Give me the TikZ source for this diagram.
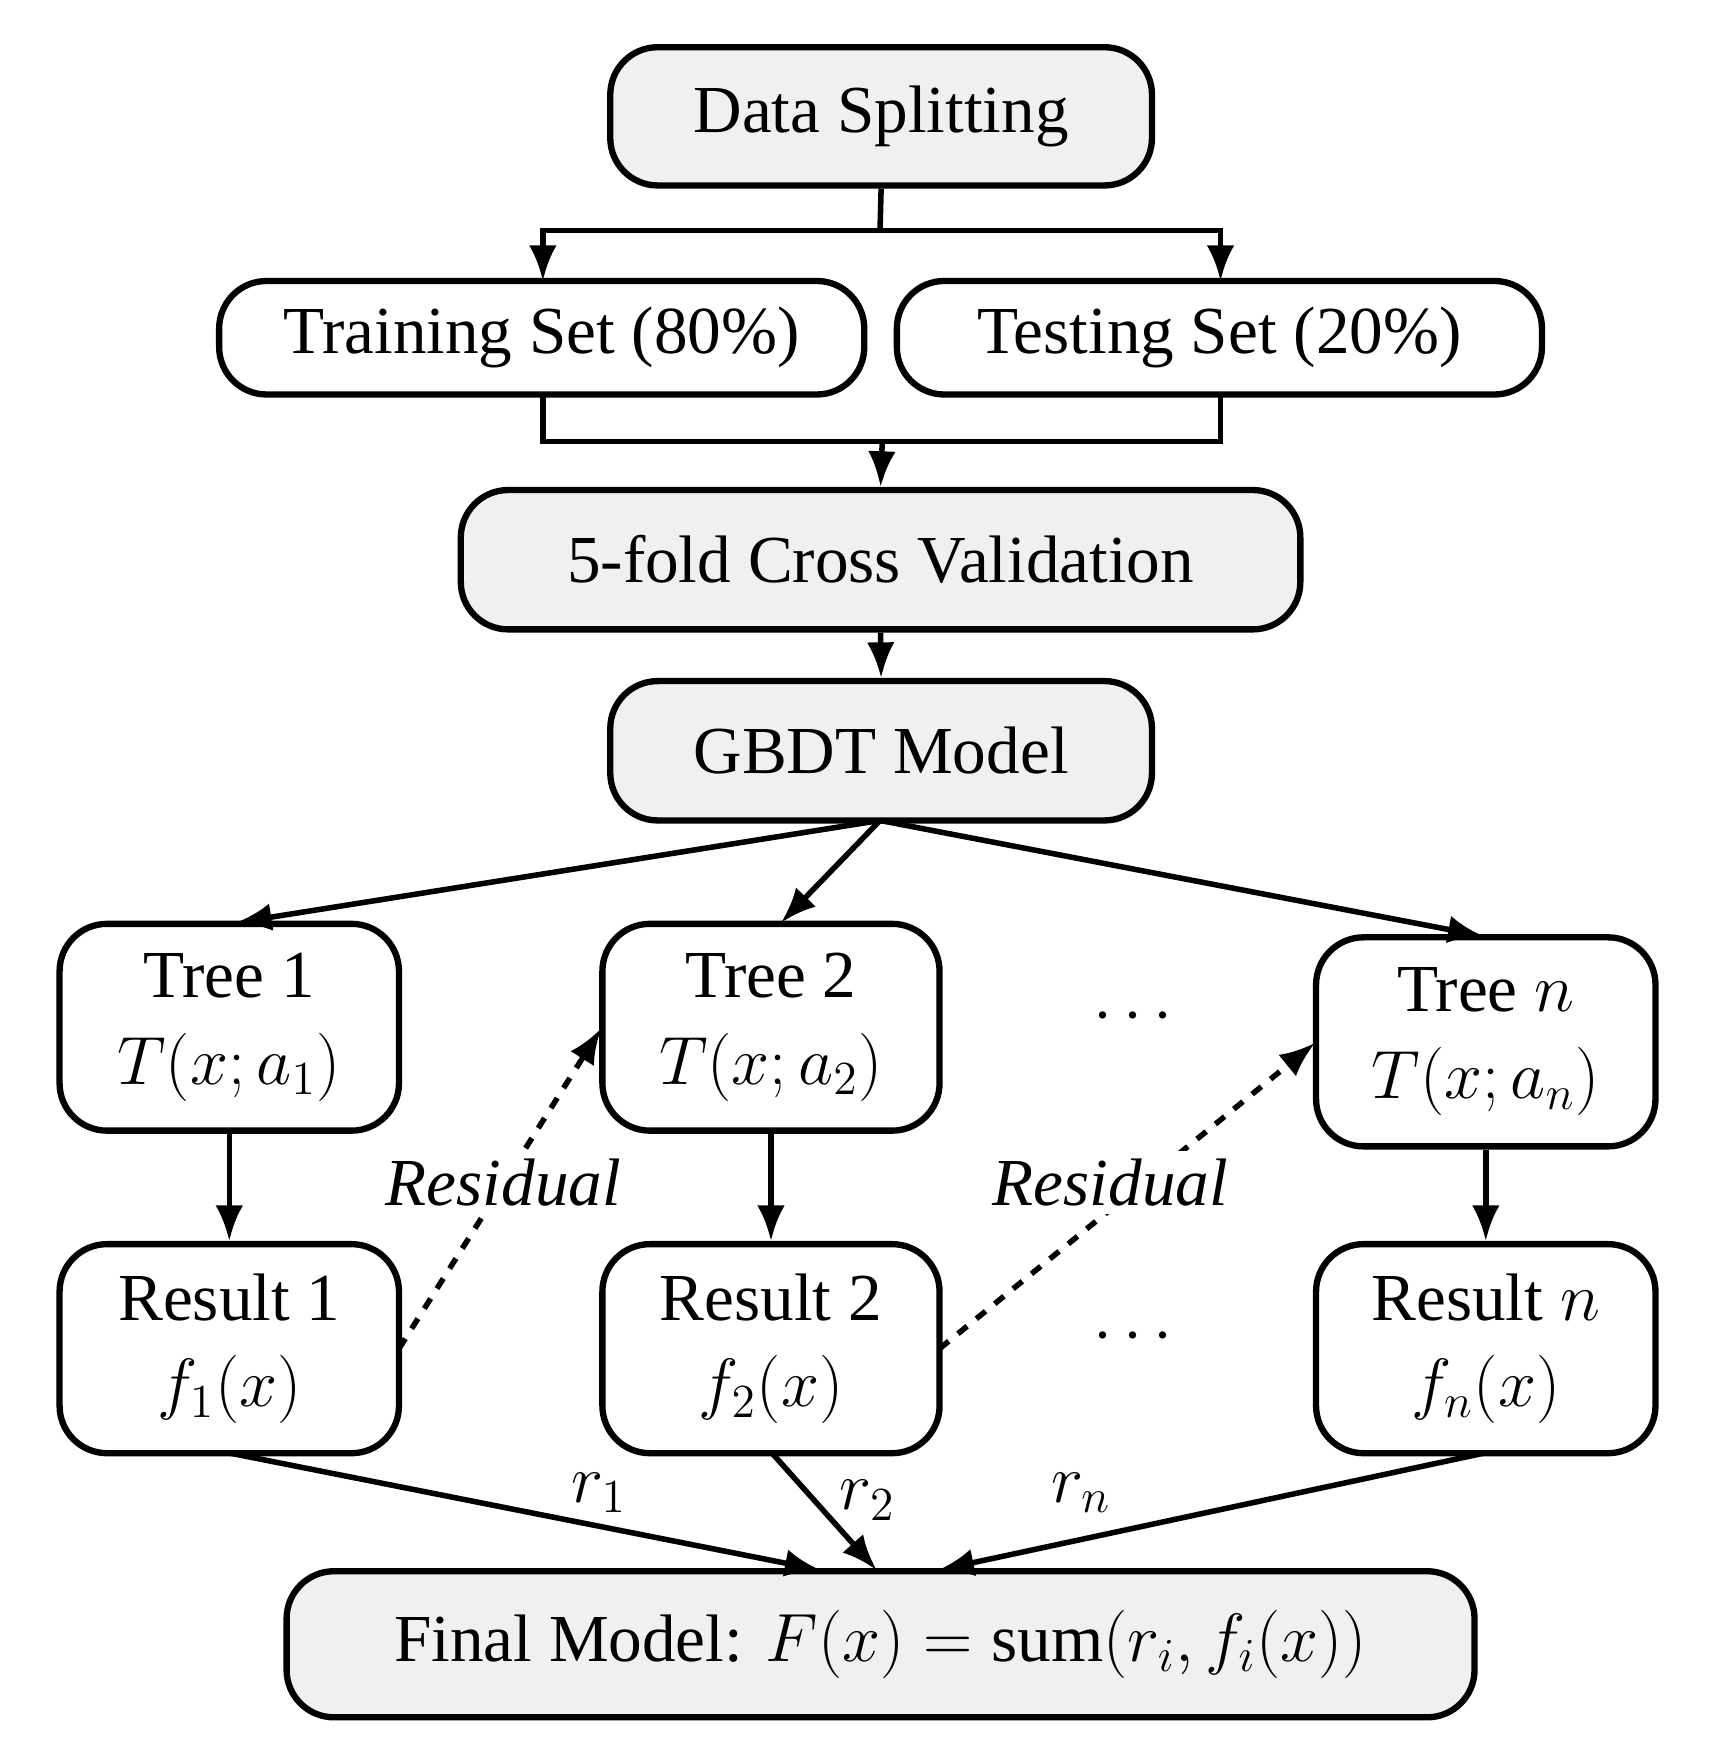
\documentclass[tikz,border=0pt]{standalone}
\usepackage{fontspec}
\setmainfont{Liberation Serif}
\usetikzlibrary{arrows.meta}
\begin{document}
\begin{tikzpicture}[x=0.01cm,y=-0.01cm,
 box/.style={draw,line width=1.6pt,rounded corners=12pt,align=center,inner sep=0pt},
 gbox/.style={box,fill=gray!12},
 ar/.style={line width=1.4pt,-{Latex[length=9pt,width=7pt]}},
 ln/.style={line width=1.4pt},
 txt/.style={font=\fontsize{17}{22}\selectfont}]
\useasboundingbox (0,0) rectangle (1540,1566);
\def\bx#1#2#3#4#5#6#7{\node[#2,txt,minimum width=#5*0.01cm-#3*0.01cm,minimum height=#6*0.01cm-#4*0.01cm] (#1) at ({(#3+#5)/2},{(#4+#6)/2}) {#7};}
\bx{ds}{gbox}{543}{42}{1025}{165}{Data Splitting}
\bx{tr}{box}{195}{250}{769}{351}{Training Set (80\%)}
\bx{te}{box}{798}{250}{1372}{351}{Testing Set (20\%)}
\bx{cv}{gbox}{410}{436}{1157}{560}{5-fold Cross Validation}
\bx{gb}{gbox}{543}{606}{1025}{730}{GBDT Model}
\bx{t1}{box}{53}{822}{355}{1006}{Tree 1\\$T(x;a_1)$}
\bx{t2}{box}{536}{822}{836}{1006}{Tree 2\\$T(x;a_2)$}
\bx{tn}{box}{1171}{834}{1473}{1020}{Tree $n$\\$T(x;a_n)$}
\bx{r1}{box}{53}{1107}{355}{1293}{Result 1\\$f_1(x)$}
\bx{r2}{box}{536}{1107}{836}{1293}{Result 2\\$f_2(x)$}
\bx{rn}{box}{1171}{1107}{1473}{1293}{Result $n$\\$f_n(x)$}
\bx{fm}{gbox}{255}{1398}{1312}{1528}{Final Model: $F(x)=\mathrm{sum}(r_i,f_i(x))$}
\coordinate (sp) at (783,205);
\draw[ln] (ds.south) -- (sp);
\draw[ar] (sp) -| (483,250);
\draw[ar] (sp) -| (1086,250);
\coordinate (mg) at (785,393);
\draw[ln] (483,351) |- (mg) -| (1086,351);
\draw[ar] (mg) -- (cv.north);
\draw[ar] (cv.south) -- (gb.north);
\draw[ar] (783,730) -- (210,821);
\draw[ar] (783,730) -- (695,821);
\draw[ar] (783,730) -- (1320,833);
\draw[ar] (t1.south) -- (r1.north);
\draw[ar] (t2.south) -- (r2.north);
\draw[ar] (tn.south) -- (rn.north);
\draw[ar,dashed] (355,1200) -- (535,915);
\draw[ar,dashed] (836,1200) -- (1170,928);
\node[txt,fill=white,inner sep=2pt] (res1) at (448,1052) {\itshape Residual};
\node[txt,fill=white,inner sep=2pt] (res2) at (988,1052) {\itshape Residual};
\node[txt] (d1) at (1008,905) {$\cdots$};
\node[txt] (d2) at (1008,1190) {$\cdots$};
\draw[ar] (205,1293) -- (730,1397);
\draw[ar] (687,1293) -- (780,1397);
\draw[ar] (1320,1293) -- (835,1397);
\node[txt] (l1) at (533,1328) {$r_1$};
\node[txt] (l2) at (772,1335) {$r_2$};
\node[txt] (l3) at (962,1328) {$r_n$};
\end{tikzpicture}
\end{document}
